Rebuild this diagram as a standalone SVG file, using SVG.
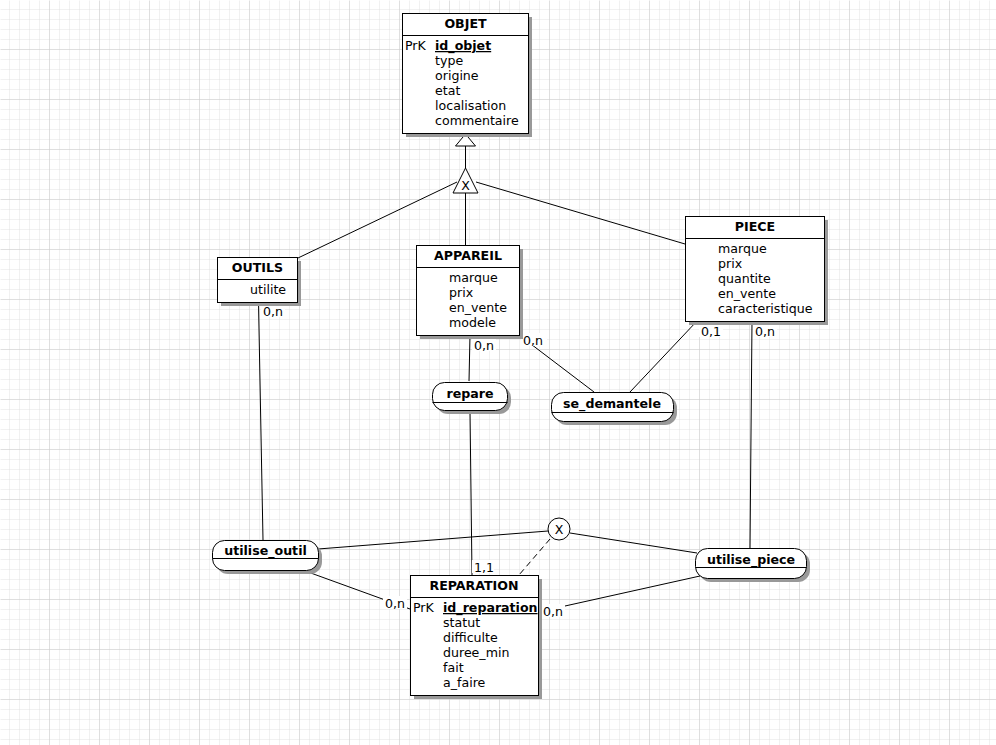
<svg xmlns="http://www.w3.org/2000/svg" width="996" height="745" viewBox="0 0 996 745">
<defs>
<pattern id="minor" width="10" height="10" patternUnits="userSpaceOnUse"><path d="M10 0V10H0" fill="none" stroke="#e2e2e2" stroke-width="1"/></pattern>
<pattern id="major" width="50" height="50" patternUnits="userSpaceOnUse"><rect width="50" height="50" fill="url(#minor)"/><path d="M50 0V50H0" fill="none" stroke="#cdcdcd" stroke-width="1"/></pattern>
</defs>
<style>
text{font-family:"DejaVu Sans","Liberation Sans",sans-serif;font-size:12.6px;fill:#000}
.t{font-weight:bold;text-anchor:middle}
.k{font-weight:bold;text-decoration:underline}
.box{fill:#fff;stroke:#000;stroke-width:1}
.sh{fill:#999}
.ln{stroke:#000;stroke-width:1;fill:none}
</style>
<rect width="996" height="745" fill="#fff"/>
<rect x="0.5" y="0.5" width="996" height="745" fill="url(#major)"/>

<g id="connectors">
<path class="ln" d="M465.5 146V168"/>
<polygon points="465.5,134 455.5,146 475.5,146" fill="#fff" stroke="#000"/>
<path class="ln" d="M457 182L298 258"/>
<path class="ln" d="M465.5 193V245"/>
<path class="ln" d="M476 182L685 244"/>
<path class="ln" d="M258.5 302L263 540"/>
<path class="ln" d="M470 335L469 381"/>
<path class="ln" d="M519 335L594 392"/>
<path class="ln" d="M697 321L630 392"/>
<path class="ln" d="M752 321L750 548"/>
<path class="ln" d="M470 411L472 575"/>
<path class="ln" d="M318 549L548 531"/>
<path class="ln" d="M570 533L697 553"/>
<path class="ln" d="M550 539L519 575" stroke-dasharray="6,4"/>
<path class="ln" d="M308 572L410 609"/>
<path class="ln" d="M700 576L538 612"/>
<rect x="261" y="304" width="24" height="13" fill="#fff"/>
<text x="263" y="316">0,n</text>
<rect x="472" y="338" width="24" height="13" fill="#fff"/>
<text x="474" y="350">0,n</text>
<rect x="521" y="333" width="26" height="13" fill="#fff"/>
<text x="523" y="345">0,n</text>
<rect x="699" y="324" width="24" height="13" fill="#fff"/>
<text x="701" y="336">0,1</text>
<rect x="753" y="324" width="24" height="13" fill="#fff"/>
<text x="755" y="336">0,n</text>
<rect x="472" y="560" width="22" height="13" fill="#fff"/>
<text x="474" y="572">1,1</text>
<rect x="383" y="596" width="24" height="13" fill="#fff"/>
<text x="385" y="608">0,n</text>
<rect x="541" y="604" width="24" height="13" fill="#fff"/>
<text x="543" y="616">0,n</text>
</g>

<g id="heritage">
<polygon points="465.5,168 453,193 478,193" fill="#fff" stroke="#000"/>
<text x="465.5" y="190" text-anchor="middle">X</text>
</g>

<g id="OBJET">
<rect class="sh" x="406" y="17" width="126" height="120"/>
<rect class="box" x="402.5" y="13.5" width="126" height="120"/>
<path class="ln" d="M402.5 35.5H528.5"/>
<text class="t" x="465.5" y="28">OBJET</text>
<text x="405" y="50">PrK</text>
<text class="k" x="435" y="50">id_objet</text>
<text x="435" y="65">type</text>
<text x="435" y="80">origine</text>
<text x="435" y="95">etat</text>
<text x="435" y="110">localisation</text>
<text x="435" y="125">commentaire</text>
</g>

<g id="OUTILS">
<rect class="sh" x="221" y="261" width="80" height="45"/>
<rect class="box" x="217.5" y="257.5" width="80" height="45"/>
<path class="ln" d="M217.5 279.5H297.5"/>
<text class="t" x="257.5" y="272">OUTILS</text>
<text x="250" y="294">utilite</text>
</g>

<g id="APPAREIL">
<rect class="sh" x="420" y="249" width="103" height="90"/>
<rect class="box" x="416.5" y="245.5" width="103" height="90"/>
<path class="ln" d="M416.5 267.5H519.5"/>
<text class="t" x="468" y="260">APPAREIL</text>
<text x="449" y="282">marque</text>
<text x="449" y="297">prix</text>
<text x="449" y="312">en_vente</text>
<text x="449" y="327">modele</text>
</g>

<g id="PIECE">
<rect class="sh" x="689" y="220" width="139" height="105"/>
<rect class="box" x="685.5" y="216.5" width="139" height="105"/>
<path class="ln" d="M685.5 238.5H824.5"/>
<text class="t" x="755" y="231">PIECE</text>
<text x="718" y="253">marque</text>
<text x="718" y="268">prix</text>
<text x="718" y="283">quantite</text>
<text x="718" y="298">en_vente</text>
<text x="718" y="313">caracteristique</text>
</g>

<g id="repare">
<rect class="sh" x="436" y="386" width="75" height="28" rx="12"/>
<rect class="box" x="432.5" y="382.5" width="75" height="28" rx="12"/>
<path class="ln" d="M432.5 402.5H507.5"/>
<text class="t" x="470" y="398">repare</text>
</g>

<g id="se_demantele">
<rect class="sh" x="555" y="396" width="122" height="29" rx="12"/>
<rect class="box" x="551.5" y="392.5" width="122" height="29" rx="12"/>
<path class="ln" d="M551.5 412.5H673.5"/>
<text class="t" x="612" y="408">se_demantele</text>
</g>

<g id="utilise_outil">
<rect class="sh" x="216" y="544" width="106" height="30" rx="12"/>
<rect class="box" x="212.5" y="540.5" width="106" height="30" rx="12"/>
<path class="ln" d="M212.5 558.5H318.5"/>
<text class="t" x="265.5" y="555">utilise_outil</text>
</g>

<g id="contrainte">
<circle cx="559" cy="529" r="11" fill="#fff" stroke="#000"/>
<text x="559" y="533.5" text-anchor="middle">X</text>
</g>

<g id="utilise_piece">
<rect class="sh" x="699" y="552" width="111" height="30" rx="12"/>
<rect class="box" x="695.5" y="548.5" width="111" height="30" rx="12"/>
<path class="ln" d="M695.5 567.5H806.5"/>
<text class="t" x="751" y="564">utilise_piece</text>
</g>

<g id="REPARATION">
<rect class="sh" x="414" y="579" width="128" height="120"/>
<rect class="box" x="410.5" y="575.5" width="128" height="120"/>
<path class="ln" d="M410.5 597.5H538.5"/>
<text class="t" x="474" y="590">REPARATION</text>
<text x="413" y="612">PrK</text>
<text class="k" x="443" y="612">id_reparation</text>
<text x="443" y="627">statut</text>
<text x="443" y="642">difficulte</text>
<text x="443" y="657">duree_min</text>
<text x="443" y="672">fait</text>
<text x="443" y="687">a_faire</text>
</g>
</svg>
